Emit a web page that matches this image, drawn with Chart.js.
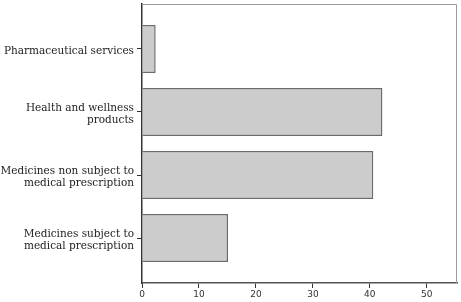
<!DOCTYPE html>
<html>
<head>
<meta charset="utf-8">
<script src="https://cdn.jsdelivr.net/npm/chart.js@4"></script>
<style>
  html, body { margin: 0; padding: 0; background: #fff; }
  #wrap { width: 461px; height: 302px; }
</style>
</head>
<body>
<div id="wrap"><canvas id="myChart" width="461" height="302"></canvas></div>
<script>
// Categories, top to bottom
const categories = [
  ['Pharmaceutical services'],
  ['Health and wellness', 'products'],
  ['Medicines non subject to', 'medical prescription'],
  ['Medicines subject to', 'medical prescription']
];
// Bar values
const values = [2.4, 42.2, 40.6, 15.1];
// X axis ticks
const xTicks = [0, 10, 20, 30, 40, 50];

// Draw the grey box around the plot area
const frame = {
  id: 'frame',
  beforeDatasetsDraw(chart) {
    const { ctx, chartArea: a } = chart;
    ctx.save();
    ctx.strokeStyle = '#9a9a9a';
    ctx.lineWidth = 1;
    ctx.beginPath();
    ctx.moveTo(a.left, a.top + 0.5);
    ctx.lineTo(a.right - 0.5, a.top + 0.5);
    ctx.lineTo(a.right - 0.5, a.bottom);
    ctx.stroke();
    ctx.restore();
  }
};

const ctx = document.getElementById('myChart').getContext('2d');
const myChart = new Chart(ctx, {
  type: 'bar',
  data: {
    datasets: [{
      data: values.map((v, i) => ({ x: v, y: i })),
      backgroundColor: '#cccccc',
      borderColor: '#6a6a6a',
      borderWidth: 1.5,
      barPercentage: 1,
      categoryPercentage: 0.76
    }]
  },
  options: {
    indexAxis: 'y',
    responsive: false,
    animation: false,
    layout: { padding: { top: 4, right: 4, left: 0, bottom: 0 } },
    plugins: { legend: { display: false }, tooltip: { enabled: false } },
    scales: {
      x: {
        type: 'linear',
        min: 0,
        max: 55.3,
        bounds: 'data',
        afterBuildTicks: s => { s.ticks = xTicks.map(v => ({ value: v })); },
        afterFit: s => { s.height = 19; s.paddingLeft = 0; s.paddingRight = 0; },
        border: { color: '#555', width: 1.5 },
        grid: { display: true, drawOnChartArea: false, drawTicks: true, tickLength: 5, color: '#333' },
        ticks: { color: '#333', padding: 1, font: { family: 'DejaVu Sans', size: 9 } }
      },
      y: {
        type: 'linear',
        reverse: true,
        offset: false,
        bounds: 'data',
        min: -0.714,
        max: 3.714,
        afterBuildTicks: s => { s.ticks = categories.map((c, i) => ({ value: i })); },
        afterFit: s => { s.width = 142; s.paddingTop = 0; s.paddingBottom = 0; },
        border: { color: '#333', width: 1.5 },
        grid: { display: true, offset: false, drawOnChartArea: false, drawTicks: true, tickLength: 5, color: '#333' },
        ticks: {
          color: '#222',
          padding: 3,
          labelOffset: 2,
          autoSkip: false,
          callback: v => categories[v],
          font: { family: 'DejaVu Serif', size: 10.5, lineHeight: 1.15 }
        }
      }
    }
  },
  plugins: [frame]
});
</script>
</body>
</html>
